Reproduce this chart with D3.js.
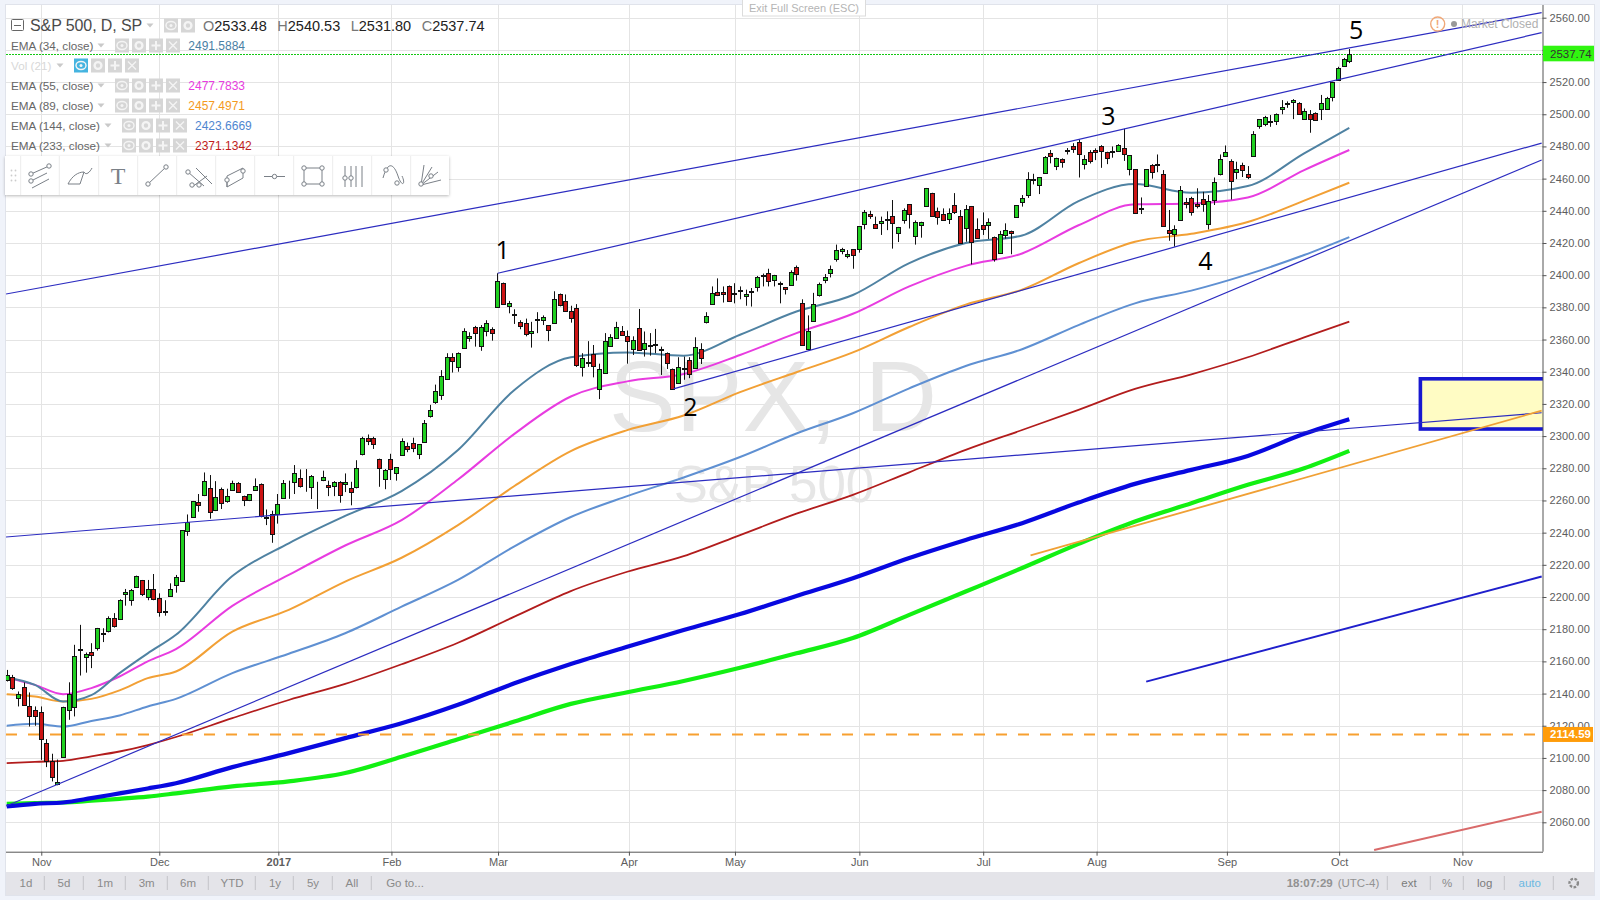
<!DOCTYPE html>
<html><head><meta charset="utf-8">
<script src="https://cdn.jsdelivr.net/npm/d3@7"></script>
<style>html,body{margin:0;padding:0;background:#f0f3fa;overflow:hidden}svg{display:block}text{font-family:"Liberation Sans",Arial,sans-serif}</style>
</head><body><svg id="c" width="1600" height="900"></svg>
<script>
// ---- candle data (daily, index 0 = first visible bar, 238 = last bar)
const opens=[2148.5,2150,2137,2144,2132.4,2129.5,2128.4,2109.2,2098.4,2083.5,
2100.5,2129.7,2131.6,2167.2,2162.4,2165.7,2168.2,2177.4,2178.5,2186.7,
2186,2201.6,2198.6,2206,2210.4,2200,2204.8,2199.6,2191.4,2200.2,
2207,2210,2240.8,2249.5,2258.8,2263,2268,2253.8,2266.9,2259.2,
2266.3,2270.6,2263,2259.8,2266.3,2270,2249.6,2251.3,2251.3,2261.3,
2268.3,2271.2,2273.7,2269,2268.7,2271.3,2272.5,2269.4,2269.4,2271.6,
2270,2267.5,2268,2288.6,2298.6,2299,2286,2273.5,2285.5,2276.8,
2288.6,2294,2296,2289,2296.5,2312,2321.4,2326,2335.7,2349.4,
2343,2355,2361.4,2367.6,2356,2365,2366.4,2380,2395,2381.3,
2376,2370.7,2370,2364,2372.3,2372,2369,2370.5,2388,2384,
2378,2379.4,2343,2345.8,2351,2329,2339.4,2356,2361.4,2365,
2362.4,2354.4,2367,2354,2356,2356.8,2353.8,2351.5,2342,2333,
2342.2,2347,2342.8,2354.4,2370.7,2382,2389.4,2389.8,2393.5,2388.5,
2390.6,2386.7,2389.8,2392.5,2399.5,2401.5,2396.6,2394.8,2392.5,2394,
2405,2383,2354.6,2371.3,2387.5,2397,2401.6,2409.6,2414.8,2411.7,
2416,2415.9,2431.4,2437.8,2432,2432.2,2434.3,2436.5,2426,2434,
2444,2424,2431.4,2442.8,2451,2439.7,2437.8,2434.5,2443.4,2436.5,
2429,2442.8,2429,2431.4,2431,2423.5,2413.4,2424.5,2427.2,2436,
2445,2449.4,2459.1,2455.8,2463.9,2475.7,2467.6,2472,2477.5,2480,
2483,2469.4,2476.3,2477.5,2480.4,2476.3,2476.7,2477.5,2478.8,2465.7,
2465.7,2441.1,2455,2468.6,2468.6,2463,2427.8,2425.3,2434,2445.2,
2448,2444.4,2447.5,2432,2446.5,2462.6,2474.4,2470.7,2463.6,2468.2,
2462.6,2474.4,2492.4,2494,2495.1,2496,2503,2506.5,2507.3,2507.3,
2497,2500,2501,2503.6,2503.6,2510.2,2521.4,2530,2533.48];
const highs=[2154.7,2151.6,2141.3,2146.9,2140.7,2132,2132,2111.7,2102.6,2099,
2131.8,2147,2170.3,2182.7,2165.5,2171.3,2180.8,2180.6,2188,2190,
2198.6,2205,2205,2213.3,2210.6,2210.6,2214.3,2202.3,2198,2208.5,
2213.7,2241.6,2251.3,2259.7,2264,2277.4,2275.8,2272,2268,2267.3,
2272.3,2271.4,2263,2263.8,2273.7,2270.6,2254.4,2253.6,2264,2272.7,
2272.3,2282,2279.3,2279.5,2275.8,2271.6,2278.5,2272.3,2272,2272,
2276.8,2271.6,2285,2299.6,2301,2299.6,2286,2279.5,2289,2280.5,
2298.6,2296,2299,2295,2310,2319.4,2332,2341,2351.5,2351.5,
2352,2367,2364.5,2368.5,2369,2372,2367.6,2401.2,2395.4,2384,
2378.8,2372,2373,2371,2377,2375,2369,2390,2388.6,2388,
2381,2382,2351.5,2359,2356.6,2345,2364,2363.3,2371,2368.4,
2365.6,2362,2379,2365,2364,2366.6,2355.6,2352,2342,2349,
2349.4,2349,2361.4,2357.7,2377,2393,2398,2393,2393.6,2395,
2393,2391,2392,2399.5,2401,2404,2400.2,2396,2392.6,2403,
2406,2385,2375,2389,2395.4,2400.7,2406,2419,2417,2415.6,
2416.2,2430.5,2440.5,2440,2436.4,2436.4,2439.7,2446.7,2430,2441.5,
2444.2,2434,2433.2,2454.2,2451.2,2442,2441.5,2441.5,2451,2440.5,
2443.6,2443,2435.3,2439,2435.3,2424,2427.5,2432.2,2427.7,2443.6,
2449.8,2464,2463,2461,2474,2477.8,2473,2472.6,2479,2482,
2484.3,2474.6,2477.7,2478.8,2480.8,2476.7,2480,2481.4,2491,2474.6,
2465.9,2448.3,2465.9,2469,2475,2465.3,2440.5,2431,2455.4,2448,
2448.7,2454,2451.8,2449.8,2460.7,2475,2480.6,2472,2470.5,2469.9,
2467.8,2489.5,2496.8,2499,2499.5,2500.5,2508.8,2508,2509.4,2507.5,
2503.6,2502.6,2501.2,2512,2510.8,2520.2,2529.5,2535,2540.53];
const lows=[2147.5,2142.3,2132,2132.4,2119.5,2120,2098.8,2094.3,2085.4,2083,
2100,2123.7,2125.8,2151.2,2153,2155.8,2166.7,2172,2178,2181,
2185.7,2194.6,2194.6,2205.8,2200.6,2198,2198,2187.8,2188.4,2200,
2202.7,2209.7,2238,2249.2,2253,2262.7,2248.7,2253.4,2254.7,2258.6,
2266,2264.8,2256.5,2259.6,2266,2249.5,2244.7,2233.7,2245.6,2260.9,
2261,2264,2268,2265.4,2260.9,2254.7,2272,2262.7,2262.7,2258.6,
2265.2,2257,2267.5,2288,2294.4,2292,2268.5,2267,2272.7,2272.3,
2288,2290,2290,2285.7,2296.5,2311.5,2320,2322.5,2335.3,2339.5,
2340,2355,2358.7,2355.6,2353,2362,2359.3,2380,2381.5,2376.3,
2369.7,2366.4,2362,2355,2364,2369,2359,2370.5,2380.6,2377.6,
2370.5,2343,2337,2343,2336.5,2323,2339,2355.8,2361,2362.2,
2345,2350.4,2353,2349.4,2350,2351.5,2338,2341.7,2329.2,2332.5,
2335,2336,2342.6,2344.8,2370,2381.7,2387,2383,2383.3,2382.5,
2385,2381,2380.5,2389.8,2393,2393,2393,2382.5,2388,2393.6,
2396.6,2357,2353.5,2371,2386.7,2395,2398.6,2408.4,2413,2410.5,
2404,2414,2428.5,2435,2429,2425,2428,2416.5,2420.6,2432,
2429,2419,2423.3,2442.6,2436.8,2431.4,2434,2431.8,2438,2419.4,
2420.8,2406.7,2423,2425,2422.5,2408.4,2413.2,2422.7,2413,2435.8,
2442.6,2448,2456.4,2450.4,2463.7,2469.5,2465.3,2466.8,2475,2476,
2460.7,2465.7,2469.4,2471.5,2466.7,2469,2473,2477.3,2471,2462,
2438,2438,2454.8,2460,2464,2430.3,2421.4,2417.7,2433.8,2441.5,
2437,2441.5,2439.4,2428.4,2443.6,2462,2474.2,2447,2459.7,2461,
2459.7,2474.2,2491,2492.6,2492.2,2493.3,2500,2504,2497,2500,
2496.8,2488.5,2496.2,2496.4,2503,2508,2521,2529.5,2531.80];
const closes=[2151.6,2143,2139.6,2132.6,2126.4,2125.8,2111.7,2097.8,2088.5,2084.8,
2131.6,2139.6,2163.2,2167.6,2164.5,2163.6,2180.6,2177,2186.7,2181.6,
2198,2203,2204.6,2213,2201.4,2204.8,2198.3,2191,2191,2204.8,
2212.2,2241.4,2246.4,2259.4,2256.7,2271.8,2253.2,2262,2258.2,2262.5,
2270.6,2265,2260.7,2263.8,2268.7,2250,2249.2,2239,2257.6,2270.6,
2268,2276.8,2268.7,2269,2275.4,2271,2274.3,2268,2271.6,2263.8,
2271.2,2264.8,2280,2298.6,2296.5,2295,2280.3,2279,2279,2280.5,
2297,2292,2293,2295,2308,2316,2328,2337.6,2349.4,2347,
2351.5,2365.5,2362.5,2364,2367.6,2370,2364,2396.2,2382,2383,
2375.5,2368,2363,2365,2372.7,2374,2366,2385.4,2381,2378,
2373.6,2344,2348.4,2346.2,2343.6,2341.5,2359,2361.4,2368,2362.4,
2359,2360,2353.3,2357.7,2356.4,2357.2,2354.2,2345,2329.3,2343,
2342.6,2338,2355.6,2349,2374.4,2388.7,2387.5,2388.7,2384.4,2388.9,
2391,2388,2390.2,2399,2399.9,2396.6,2400,2395.2,2391,2402,
2400.5,2357,2365.5,2382,2394.3,2398.6,2404,2415.4,2416,2413,
2412,2430.3,2439,2436.4,2429.5,2433.5,2434.7,2432,2429.7,2440.3,
2437.8,2432.8,2433,2454,2437,2436,2434.3,2438.4,2438.8,2419.6,
2441,2420.4,2423.3,2429,2432.8,2409.6,2425.4,2427.9,2425.8,2443.4,
2447.7,2459.5,2459.5,2460.8,2473.6,2473.8,2472.6,2470,2477.9,2478,
2475.7,2472.5,2470.5,2476.3,2477.5,2472.5,2477.1,2481.2,2475,2474.4,
2438.4,2441.5,2465.7,2464.5,2469,2430.4,2425.8,2428.4,2452.7,2443.8,
2439,2443.3,2444.6,2446,2457.6,2472,2476.7,2458.3,2465.7,2465,
2461,2488,2496.8,2498.4,2495.5,2500.3,2504.2,2506.9,2508.6,2500.3,
2502,2496.8,2496.4,2507.3,2510.4,2519.8,2529,2534.5,2537.74];

// ---- moving averages, read at these bar indices
const emaIndex=[0,5,10,15,20,25,30,40,50,60,70,80,90,100,110,120,130,140,150,160,170,180,190,200,210,220,230,238];
const ema34=[2150,2145.4,2135,2139,2152.7,2165,2176.5,2213,2233.4,2250.4,2265.8,2291.3,2328.7,2349,2352,2350,2363,2377.4,2387.7,2407.5,2420,2424.7,2446,2456.6,2451.2,2455.4,2475.7,2491.58];
const ema55=[2150,2145.4,2139.6,2143.4,2150.6,2160,2167.6,2194.5,2213.7,2232,2247.8,2273,2301.4,2324.6,2334,2338.6,2350.4,2364,2376,2393,2405.8,2413.5,2431,2444,2444.6,2448.3,2465.3,2477.78];
const ema89=[2139.6,2138.2,2135,2136.7,2142,2149.6,2153.7,2178.5,2192,2209.6,2224.4,2244.7,2269,2290.7,2303.7,2312.8,2327.3,2339.7,2352,2367.8,2381.7,2391,2407.4,2420.8,2425.7,2433,2446.3,2457.5];
const ema144=[2120,2121.2,2119.5,2123,2126.4,2132,2136.7,2152.7,2164.7,2177.5,2194,2210.6,2231.5,2249.7,2262.7,2274.3,2287,2301.6,2314.2,2329.7,2343.6,2354,2369,2382.5,2390.4,2400.5,2412.5,2423.67];
const ema233=[2096.8,2097.6,2098.2,2101,2104,2108,2113,2124.7,2136,2146,2158.2,2171.6,2187.8,2203.7,2215.7,2225.4,2238.5,2251.8,2263.5,2277.5,2291.4,2303.8,2316.3,2329.3,2338.4,2349,2361.4,2371.13];
const smaBlue=[2069.9,2071.5,2072.3,2075,2078,2081,2084.3,2094.3,2103,2112.3,2121.5,2133,2146.4,2158.4,2169.1,2179.5,2189.4,2200.6,2211.7,2224.3,2235.5,2245.9,2258.7,2270.3,2279,2287.7,2301.4,2310.5];
const smaGreen=[2071.5,2072,2072.3,2073.4,2074.6,2076,2078,2082.3,2085.4,2090.6,2100.7,2111.6,2122.6,2133.6,2140.8,2147.8,2156,2165,2174.5,2188.9,2203.4,2218,2233,2246.9,2258.3,2269.7,2280,2290.8];

// ---- drawn trend lines: bar index and price at both ends
const trendIndex=[[-0.12,272.1],[87.04,272.1],[118.2,272.1],[-0.12,272.1],[-0.12,272.1]];
const trendPrice=[[2388.3,2563.1],[2401.2,2550.7],[2329.3,2482.1],[2070.1,2471.6],[2237.3,2314.5]];
const orangeTrendIndex=[181.5,272.1], orangeTrendPrice=[2225.9,2315.8];
const blueTrendIndex=[202,272.1], blueTrendPrice=[2147.4,2212.7];
const redTrendIndex=[242.4,272.1], redTrendPrice=[2042.8,2066.6];
const zoneIndex=[250.6,290], zonePrice=[2335.6,2304.4];
const lastClose=2537.74, supportLevel=2114.59;

// ---- wave labels
const waveText=["1","2","3","4","5"];
const waveIndex=[87.9,121.2,195.3,212.5,239.2];
const wavePrice=[2416,2318.9,2499.5,2409.4,2552.8];

// ---- axes
const timeTickIndex=[6.13,27.05,48.15,68.2,87.1,110.3,129.1,151.15,173.1,193.2,216.3,236.2,258.05];
const timeTickLabels=["Nov","Dec","2017","Feb","Mar","Apr","May","Jun","Jul","Aug","Sep","Oct","Nov"];
const priceTicks=d3.range(2060,2561,20);

// ---- legend and toolbar text
const ohlcLabels=[["O","2533.48",203],["H","2540.53",277.3],["L","2531.80",350.7],["C","2537.74",421.7]];
const legendRows=[
 {name:"EMA (34, close)",val:"2491.5884",col:"#4a7fa5",y:45.5,caret:101,btn:115,vx:188.3},
 {name:"EMA (55, close)",val:"2477.7833",col:"#e83ce0",y:85.5,caret:101,btn:115,vx:188.3},
 {name:"EMA (89, close)",val:"2457.4971",col:"#f49a1e",y:105.5,caret:101,btn:115,vx:188.3},
 {name:"EMA (144, close)",val:"2423.6669",col:"#4f86d0",y:125.5,caret:108,btn:122,vx:195},
 {name:"EMA (233, close)",val:"2371.1342",col:"#c01c1c",y:145.5,caret:108,btn:122,vx:195}];
const rangeButtons=[["1d",26],["5d",64],["1m",105],["3m",146.7],["6m",188],["YTD",232],["1y",275],["5y",313],["All",352],["Go to...",405]];
const rangeSeps=[44.3,83.3,125.3,167.3,208.3,255.3,293.3,332.3,371.3];
const rightSeps=[1387.3,1430.3,1463.3,1504.3,1553.3];

const svg=d3.select("#c");
const L=6,R=1543,T=5,B=851.7;
const x=d3.scaleLinear().domain([0,238]).range([6.7,1349.3]);
const y=d3.scaleLinear().domain([2060,2560]).range([822.3,17.7]);

svg.append("rect").attr("width",1600).attr("height",900).attr("fill","#f0f3fa");
svg.append("rect").attr("x",L-.5).attr("y",T-.5).attr("width",1589).attr("height",891).attr("fill","#fff").attr("stroke","#e0e3eb");
svg.append("defs").append("clipPath").attr("id","plot").append("rect").attr("x",L).attr("y",T).attr("width",R-L).attr("height",B-T);

// grid
const grid=svg.append("g").attr("stroke","#e4e4e4").attr("stroke-width",1);
grid.selectAll(".h").data(priceTicks).join("line").attr("class","h").attr("x1",L).attr("x2",R)
  .attr("y1",d=>Math.round(y(d))+.5).attr("y2",d=>Math.round(y(d))+.5);
grid.selectAll(".v").data(timeTickIndex).join("line").attr("class","v").attr("y1",T).attr("y2",B)
  .attr("x1",d=>Math.round(x(d))+.5).attr("x2",d=>Math.round(x(d))+.5);

// watermark
const mark=svg.append("g").attr("fill","#e6e6e6").attr("text-anchor","middle");
mark.append("text").attr("x",773).attr("y",431).attr("font-size",100).text("SPX, D");
mark.append("text").attr("x",774).attr("y",502).attr("font-size",51).text("S&P 500");

const plot=svg.append("g").attr("clip-path","url(#plot)");

// zone
plot.append("rect").attr("x",x(zoneIndex[0])).attr("width",x(zoneIndex[1])-x(zoneIndex[0]))
  .attr("y",y(zonePrice[0])).attr("height",y(zonePrice[1])-y(zonePrice[0]))
  .attr("fill","#fffcc4").attr("stroke","#1818d0").attr("stroke-width",3.6);

// moving averages
const lineGen=d3.line().x((d,i)=>x(emaIndex[i])).y(d=>y(d)).curve(d3.curveMonotoneX);
const emaDefs=[[smaGreen,"#12f012",4.2],[smaBlue,"#0808e0",4.2],[ema233,"#b21c1c",1.8],[ema144,"#5f90d2",2],[ema89,"#f2a035",2],[ema55,"#e83ce0",2],[ema34,"#4f82a2",2]];
plot.selectAll(".ema").data(emaDefs).join("path").attr("class","ema").attr("fill","none")
  .attr("d",d=>lineGen(d[0])).attr("stroke",d=>d[1]).attr("stroke-width",d=>d[2]);

// dashed support and last price
plot.append("line").attr("x1",L).attr("x2",R).attr("y1",y(supportLevel)).attr("y2",y(supportLevel))
  .attr("stroke","#f7a030").attr("stroke-width",2).attr("stroke-dasharray","11 11");
plot.append("line").attr("x1",L).attr("x2",R).attr("y1",Math.round(y(lastClose))+.5).attr("y2",Math.round(y(lastClose))+.5)
  .attr("stroke","#14c814").attr("stroke-dasharray","2 1");

// candles
const bars=plot.append("g").selectAll("g").data(opens).join("g");
bars.append("line").attr("stroke","#111")
  .attr("x1",(d,i)=>Math.round(x(i))+.5).attr("x2",(d,i)=>Math.round(x(i))+.5)
  .attr("y1",(d,i)=>y(highs[i])).attr("y2",(d,i)=>y(lows[i]));
bars.append("rect").attr("stroke","#111")
  .attr("x",(d,i)=>Math.round(x(i))-1.5).attr("width",4)
  .attr("y",(d,i)=>Math.round(y(Math.max(d,closes[i])))+.5)
  .attr("height",(d,i)=>Math.max(Math.round(Math.abs(y(d)-y(closes[i]))),0))
  .attr("fill",(d,i)=>closes[i]>=d?"#20d020":"#cc1414");

// trend lines
plot.selectAll(".tr").data(trendIndex).join("line").attr("class","tr").attr("stroke","#2c2cc0").attr("stroke-width",1.2)
  .attr("x1",d=>x(d[0])).attr("x2",d=>x(d[1]))
  .attr("y1",(d,i)=>y(trendPrice[i][0])).attr("y2",(d,i)=>y(trendPrice[i][1]));
plot.append("line").attr("stroke","#f0a035").attr("stroke-width",1.8)
  .attr("x1",x(orangeTrendIndex[0])).attr("x2",x(orangeTrendIndex[1])).attr("y1",y(orangeTrendPrice[0])).attr("y2",y(orangeTrendPrice[1]));
plot.append("line").attr("stroke","#1f1fcc").attr("stroke-width",2)
  .attr("x1",x(blueTrendIndex[0])).attr("x2",x(blueTrendIndex[1])).attr("y1",y(blueTrendPrice[0])).attr("y2",y(blueTrendPrice[1]));
plot.append("line").attr("stroke","#d96a6a").attr("stroke-width",2)
  .attr("x1",x(redTrendIndex[0])).attr("x2",x(redTrendIndex[1])).attr("y1",y(redTrendPrice[0])).attr("y2",y(redTrendPrice[1]));

// wave labels
svg.selectAll(".wave").data(waveText).join("text").attr("class","wave").attr("text-anchor","middle").attr("dominant-baseline","central")
  .style("font-family","'Open Sans',sans-serif").attr("font-size",25).attr("fill","#000")
  .attr("x",(d,i)=>x(waveIndex[i])).attr("y",(d,i)=>y(wavePrice[i])).text(d=>d);

// axes through d3
const yAxis=svg.append("g").attr("transform",`translate(${R-.5},0)`)
  .call(d3.axisRight(y).tickValues(priceTicks).tickSize(4).tickPadding(3).tickFormat(d=>d===2540?"":d.toFixed(2)));
yAxis.select(".domain").attr("d",`M0.5,${T}V${B}`).attr("stroke","#555");
yAxis.selectAll(".tick line").attr("stroke","#555");
yAxis.selectAll("text").attr("font-size",11).attr("fill","#5d5d5d").style("letter-spacing","0.1px").attr("font-family",null);
const xAxis=svg.append("g").attr("transform",`translate(0,${B})`)
  .call(d3.axisBottom(x).tickValues(timeTickIndex).tickSize(4).tickPadding(3).tickFormat((d,i)=>timeTickLabels[i]));
xAxis.select(".domain").attr("d",`M${L},0.5H${R}`).attr("stroke","#555");
xAxis.selectAll(".tick line").attr("stroke","#555");
xAxis.selectAll("text").attr("font-size",11).attr("fill","#5d5d5d").attr("font-family",null)
  .attr("font-weight",(d,i)=>timeTickLabels[i]==="2017"?"bold":"normal");

// price tags
function tag(v,fill,tc,w,h,bold){
  const g=svg.append("g");
  g.append("rect").attr("x",R).attr("y",y(v)-h/2).attr("width",w).attr("height",h).attr("fill",fill);
  g.append("text").attr("x",R+7).attr("y",y(v)+4).attr("font-size",11.5).attr("fill",tc).attr("font-weight",bold?"bold":"normal").text(v.toFixed(2));
}
tag(lastClose,"#30f510","#333",51,15.6,false);
tag(supportLevel,"#ff9c0a","#fff",50,15,true);

// header legend
const hud=svg.append("g");
hud.append("rect").attr("x",11.5).attr("y",19.5).attr("width",12).attr("height",11).attr("fill","none").attr("stroke","#666").attr("rx",1);
hud.append("line").attr("x1",14).attr("x2",21).attr("y1",25.5).attr("y2",25.5).attr("stroke","#666");
hud.append("text").attr("x",30).attr("y",31).attr("font-size",16).attr("fill","#4a4a4a").style("font-weight",500).style("letter-spacing","-.1px").text("S&P 500, D, SP");
function caret(x0,yy,c="#c9c9c9"){hud.append("path").attr("d",`M${x0-3.5},${yy-2}h7l-3.5,4z`).attr("fill",c);}
function btn(x0,yy,kind,bg="#d6d6d6"){
  const g=hud.append("g").attr("transform",`translate(${x0},${yy-7})`);
  g.append("rect").attr("width",14).attr("height",14).attr("fill",bg);
  const s="#f4f4f4";
  if(kind==="eye"){g.append("ellipse").attr("cx",7).attr("cy",7).attr("rx",5).attr("ry",4).attr("fill","none").attr("stroke",s).attr("stroke-width",1.4);g.append("circle").attr("cx",7).attr("cy",7).attr("r",1.5).attr("fill",s);}
  if(kind==="gear"){g.append("circle").attr("cx",7).attr("cy",7).attr("r",3.4).attr("fill","none").attr("stroke",s).attr("stroke-width",2.4);}
  if(kind==="plus"){g.append("path").attr("d","M7 2.5v9M2.5 7h9").attr("stroke",s).attr("stroke-width",2);}
  if(kind==="x"){g.append("path").attr("d","M3 3l8 8M11 3l-8 8").attr("stroke",s).attr("stroke-width",1.4);}
}
caret(150,25.5);btn(164,25.5,"eye");btn(181,25.5,"gear");
ohlcLabels.forEach(([a,b,px])=>{
  const t=hud.append("text").attr("x",px).attr("y",31).attr("font-size",14.5);
  t.append("tspan").attr("fill","#777").text(a);
  t.append("tspan").attr("fill","#222").text(b);
});
legendRows.forEach(r=>{
  hud.append("text").attr("x",11).attr("y",r.y+4).attr("font-size",11.7).attr("fill","#666").text(r.name);
  caret(r.caret,r.y);
  ["eye","gear","plus","x"].forEach((k,i)=>btn(r.btn+i*17,r.y,k));
  hud.append("text").attr("x",r.vx).attr("y",r.y+4).attr("font-size",12).attr("fill",r.col).text(r.val);
});
hud.append("text").attr("x",11).attr("y",69.5).attr("font-size",11.7).attr("fill","#d8d8d8").text("Vol (21)");
caret(60,65.5);btn(74,65.5,"eye","#45b4e0");btn(91,65.5,"gear");btn(108,65.5,"plus");btn(125,65.5,"x");

// drawing toolbar
const shadow=svg.select("defs").append("filter").attr("id","sh").attr("x","-5%").attr("y","-20%").attr("width","110%").attr("height","150%");
shadow.append("feDropShadow").attr("dx",0).attr("dy",1).attr("stdDeviation",1.6).attr("flood-color","#000").attr("flood-opacity",.28);
const tb=svg.append("g");
tb.append("rect").attr("x",5).attr("y",156).attr("width",444).attr("height",39).attr("fill","#fff").attr("filter","url(#sh)");
const seps=[20.7,59.3,98.7,137.7,176.7,215.7,254.7,293.7,332.7,371.7,410.7];
tb.selectAll(".s").data(seps).join("line").attr("class","s").attr("x1",d=>d).attr("x2",d=>d).attr("y1",156).attr("y2",195).attr("stroke","#ececec");
[[12,170],[16,170],[12,175],[16,175],[12,180],[16,180]].forEach(p=>tb.append("circle").attr("cx",p[0]-.5).attr("cy",p[1]+.5).attr("r",.9).attr("fill","#ccc"));
const ic="#7a8087";
const icon=tb.append("g").attr("fill","none").attr("stroke",ic).attr("stroke-width",1);
const node=(a,b)=>icon.append("circle").attr("cx",a).attr("cy",b).attr("r",2.2).attr("fill","#fff");
const seg=d=>icon.append("path").attr("d",d);
seg("M31 174L49 166M31 181L47 173M32 188L49 179");node(31,174);node(49,166);node(31,181);
seg("M68 184C72 176 78 172 84 172L80 184ZM84 172C86 176 90 172 92 168");
icon.append("text").attr("x",118).attr("y",184).attr("text-anchor","middle").attr("font-size",24).attr("fill",ic).attr("stroke","none").style("font-family","'Liberation Serif',serif").style("font-weight",100).text("T");
seg("M148 184L166 167");node(148,184);node(166,167);
seg("M188 172L204 186M196 168L212 184M192 187L207 176");node(188,172);node(192,185);node(199,185);
seg("M227 176L243 168V178L227 187ZM227 181V187");node(227,180);node(243,171);
seg("M264 176.5H285");node(274.5,176.5);
seg("M304 168H322M304 184H322M304 168V184M322 168V184");node(304,168);node(322,168);node(304,184);node(322,184);
seg("M345 166V187M351 166V187M356 166V187M362 166V187");node(345,178);node(351,178);
seg("M383 178C388 160 394 164 398 176C402 188 406 184 402 176");node(386,170);node(397,183);
seg("M421 185L424 165M421 185L432 167M421 185L438 172M421 185L441 180");node(421,184);node(431,176);

// exit banner and market status
const topBar=svg.append("g");
topBar.append("rect").attr("x",742.5).attr("y",-1).attr("width",123).attr("height",17).attr("fill","#fff").attr("stroke","#dcdcdc");
topBar.append("text").attr("x",804).attr("y",12).attr("text-anchor","middle").attr("font-size",11).attr("fill","#b5b5b5").text("Exit Full Screen (ESC)");
topBar.append("circle").attr("cx",1437.7).attr("cy",24).attr("r",7).attr("fill","none").attr("stroke","#f0a878").attr("stroke-width",1.4);
topBar.append("text").attr("x",1437.7).attr("y",28).attr("text-anchor","middle").attr("font-size",11).attr("font-weight","bold").attr("fill","#f0a878").text("!");
topBar.append("circle").attr("cx",1454).attr("cy",24).attr("r",3).attr("fill","#999");
topBar.append("text").attr("x",1461).attr("y",28).attr("font-size",12).attr("fill","#b0b0b0").text("Market Closed");

// bottom bar
const bar=svg.append("g");
bar.append("rect").attr("x",L).attr("y",872).attr("width",1588).attr("height",23).attr("fill","#e4e4e9");
bar.selectAll(".r").data(rangeButtons).join("text").attr("class","r").attr("x",d=>d[1]).attr("y",886.5).attr("text-anchor","middle")
  .attr("font-size",11.5).attr("fill","#8a8a8a").text(d=>d[0]);
bar.selectAll(".l").data(rangeSeps.concat(rightSeps)).join("line").attr("class","l").attr("x1",d=>d).attr("x2",d=>d).attr("y1",876).attr("y2",890).attr("stroke","#c4c4c8");
bar.append("text").attr("x",1286.7).attr("y",886.5).attr("font-size",11.5).attr("font-weight","bold").attr("fill","#929292").text("18:07:29");
bar.append("text").attr("x",1337.7).attr("y",886.5).attr("font-size",11.5).attr("fill","#929292").text("(UTC-4)");
[["ext",1409,"#7c7c7c","normal"],["%",1447,"#8a8a8a","normal"],["log",1484.7,"#7c7c7c","normal"],["auto",1529.7,"#6cb8e2","normal"]].forEach(a=>
  bar.append("text").attr("x",a[1]).attr("y",886.5).attr("text-anchor","middle").attr("font-size",11.5).attr("fill",a[2]).attr("font-weight",a[3]).text(a[0]));
bar.append("circle").attr("cx",1573.7).attr("cy",883).attr("r",4.2).attr("fill","none").attr("stroke","#8a8a8a").attr("stroke-width",2.4).attr("stroke-dasharray","2.6 1.4");
</script></body></html>
